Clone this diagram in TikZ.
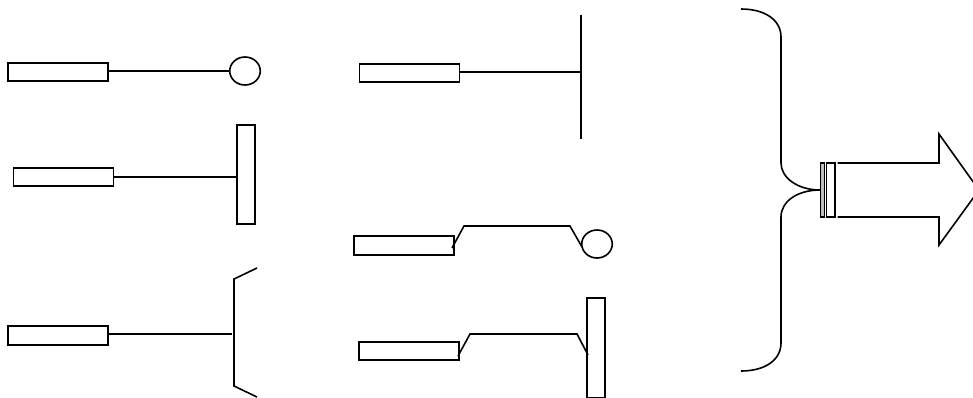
\documentclass[tikz,border=0pt]{standalone}
\tikzset{
  x=0.75pt,y=-0.75pt,
  ink/.style={draw=black,line width=1.2pt,line join=miter},
  wire/.style={ink},
  bar/.style={ink,rectangle,inner sep=0pt,outer sep=0pt,fill=white},
  hbar/.style={bar,minimum width=75pt,minimum height=13.9pt},
  vbar/.style={bar,minimum width=13.5pt,minimum height=74.5pt},
  plate/.style={bar,line width=1pt,minimum height=40.5pt,anchor=north west},
  knob/.style={ink,ellipse,inner sep=0pt,outer sep=0pt,minimum width=22.9pt,minimum height=21pt},
}
\usetikzlibrary{shapes.geometric}
\begin{document}
\begin{tikzpicture}
\useasboundingbox (0,0) rectangle (973,397);
\clip (0,0) rectangle (973,397);
% row 1 left
\node[hbar] (a) at (58,72) {};
\node[knob] (ak) at (245,71) {};
\draw[wire] (a.east |- 0,71) -- (ak.west);
% row 2 left
\node[hbar] (b) at (63.5,177) {};
\node[vbar] (bv) at (246,174.5) {};
\draw[wire] (b.east) -- (bv.west |- b.east);
% row 3 left
\node[hbar] (c) at (58,335.5) {};
\coordinate (cu) at (257,268);
\coordinate (ct) at (234,279);
\coordinate (cb) at (234,386);
\coordinate (cd) at (257,397);
\coordinate (cm) at (232,334.5);
\draw[wire] (cu) -- (ct) -- (cb) -- (cd);
\draw[wire] ([yshift=0.3pt]c.east |- cm) -- ([yshift=0.3pt]cm);
% top middle
\node[hbar] (d) at (409.5,73) {};
\coordinate (dt) at (581,15);
\coordinate (db) at (581,139);
\draw[wire] (dt) -- (db);
\draw[wire] (d.east |- 0,72) -- (581,72);
% middle with knob
\node[hbar] (e) at (404,245.5) {};
\node[knob] (ek) at (597,244) {};
\coordinate (e1) at (452,248);
\coordinate (e2) at (464,226);
\coordinate (e3) at (570,226);
\coordinate (e4) at (582,247);
\draw[wire] (e1) -- (e2) -- (e3) -- (e4);
% middle with bar
\node[hbar] (f) at (409,351) {};
\node[bar,minimum width=13.5pt,minimum height=74.5pt,anchor=north west] (fv) at (587,298) {};
\coordinate (f1) at (458,356);
\coordinate (f2) at (470,334);
\coordinate (f3) at (577,334);
\coordinate (f4) at (588,355);
\draw[wire] (f1) -- (f2) -- (f3) -- (f4);
% brace
\coordinate (bt) at (741,9);
\coordinate (bs) at (820,190);
\coordinate (be) at (741,371);
\draw[wire] (bt) .. controls (765,9) and (781,20) .. (781,37) -- (781,163) .. controls (781,178) and (798,190) .. (bs);
\draw[wire] (bs) .. controls (798,190) and (781,201) .. (781,217) -- (781,343) .. controls (781,360) and (765,371) .. (be);
% block arrow with its two plates
\node[plate,fill=black!25,minimum width=3.2pt] (p1) at (820.3,163) {};
\node[plate,fill=white,minimum width=6.6pt] (p2) at (826.3,163) {};
\draw[ink] (837.5,163) -- (939,163) -- (939,134) -- (979,190) -- (939,245) -- (939,217) -- (837.5,217);
\end{tikzpicture}
\end{document}
